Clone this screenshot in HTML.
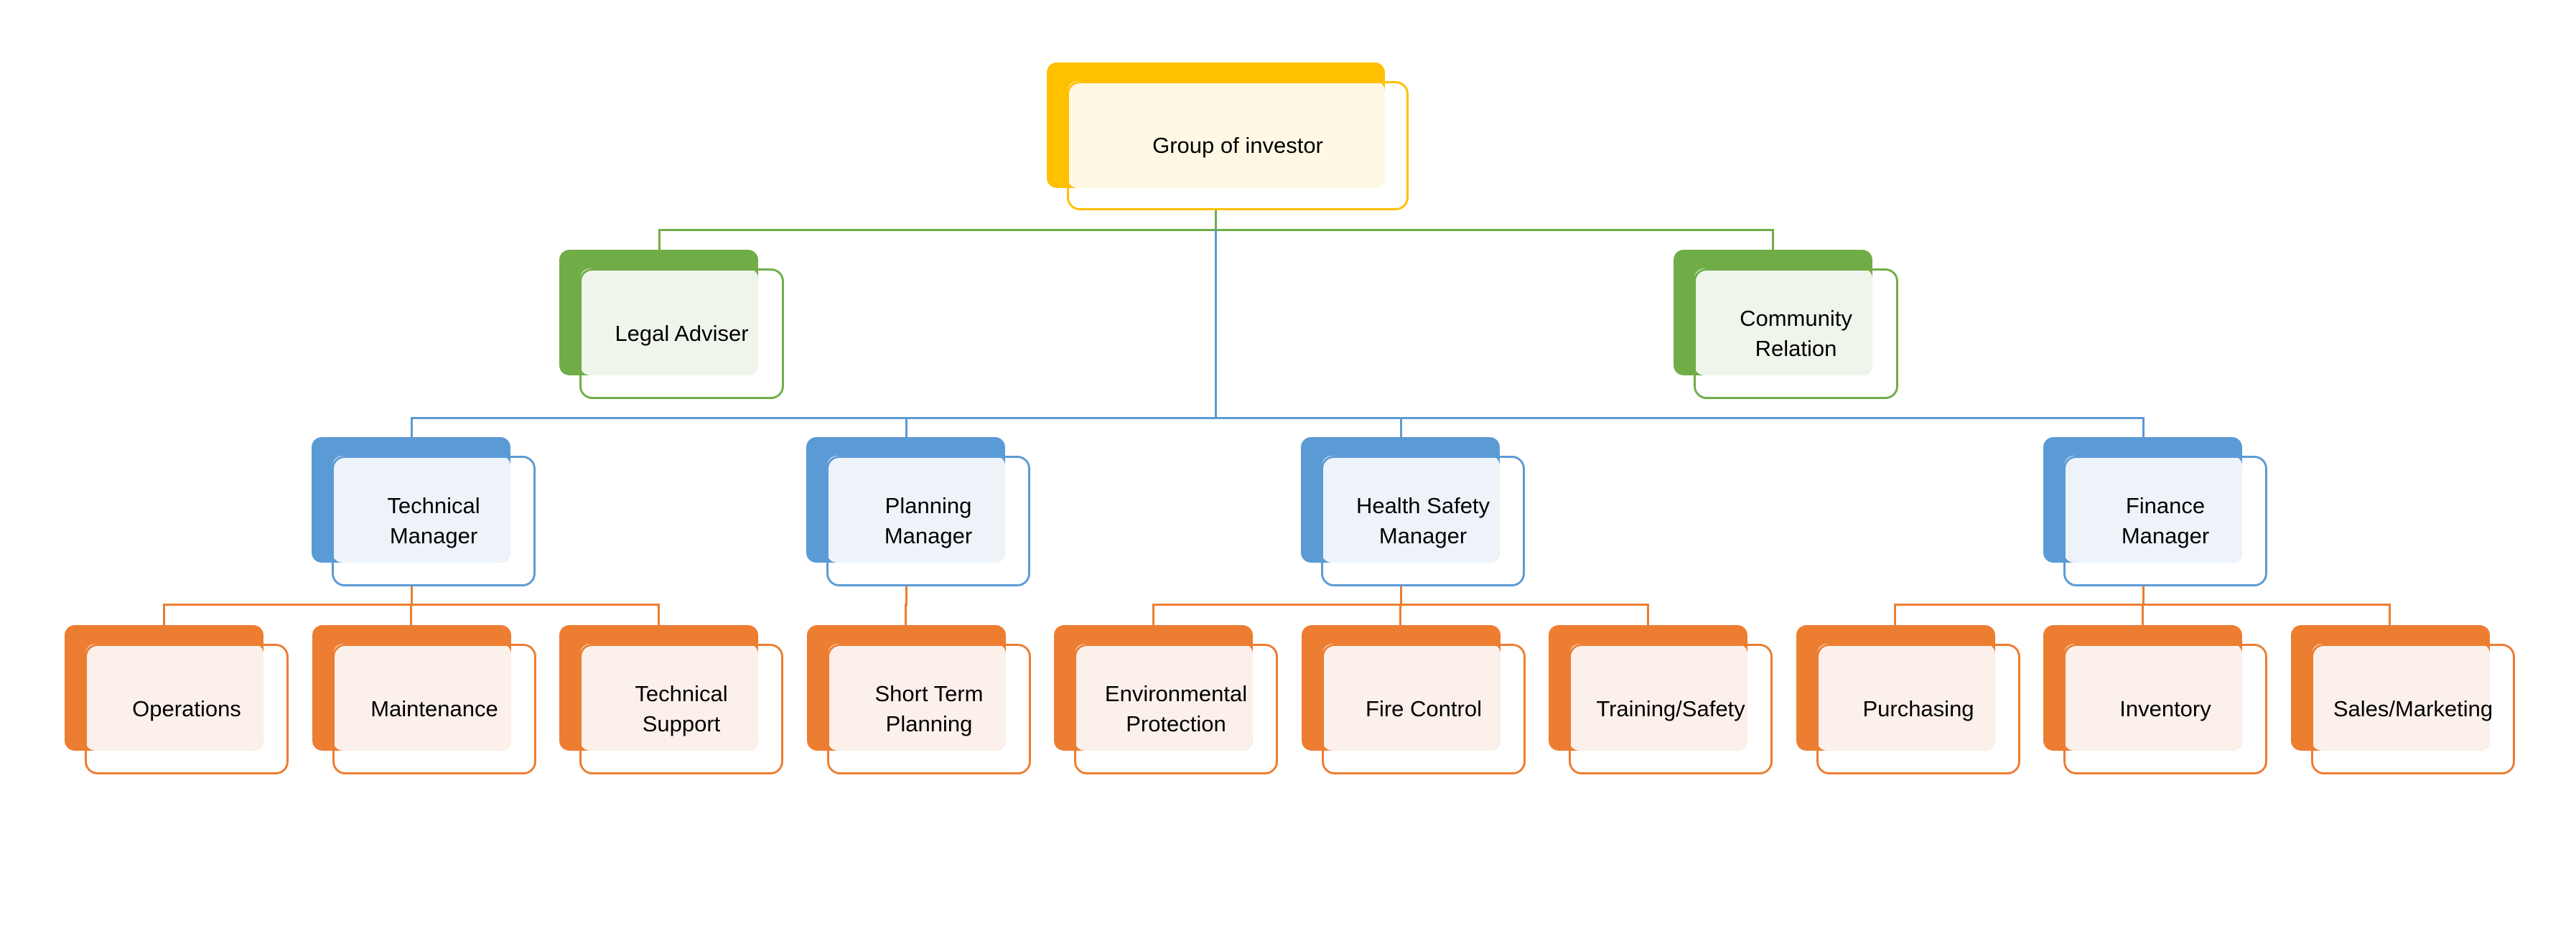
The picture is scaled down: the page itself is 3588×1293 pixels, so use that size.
<!DOCTYPE html>
<html><head><meta charset="utf-8"><style>
body{margin:0;width:3588px;height:1293px;background:#fff;position:relative;overflow:hidden;font-family:"Liberation Sans",sans-serif;}
.b{position:absolute;border-radius:14px;}
.c{position:absolute;border-radius:14px;}
.f{position:absolute;box-sizing:border-box;border:3px solid;border-radius:18px;display:flex;align-items:center;justify-content:center;text-align:center;font-size:31px;line-height:42px;color:#000;}
.l{position:absolute;}
</style></head><body>
<div id="root"></div>
<script>
const C={y:['#FFC000','#FFF8E5'],g:['#70AD47','#F0F5EB'],b:['#5B9BD5','#EEF3FA'],o:['#ED7D31','#FBF0EA']};
function box(x,y,w,h,fw,fh,col,txt){
 const [d,l]=C[col];
 document.body.insertAdjacentHTML('beforeend',
 `<div class="b" style="left:${x}px;top:${y}px;width:${w}px;height:${h}px;background:${d}"></div>`+
 `<div class="c" style="left:${x+29}px;top:${y+26}px;width:${w-29}px;height:${h-26}px;background:${l}"></div>`+
 `<div class="f" style="left:${x+28}px;top:${y+26}px;width:${fw}px;height:${fh}px;border-color:${d}">${txt}</div>`);
}
function ln(x1,y1,x2,y2,col){
 const c=C[col][0];
 if(y1==y2) document.body.insertAdjacentHTML('beforeend',`<div class="l" style="left:${Math.min(x1,x2)-1.5}px;top:${y1-1.5}px;width:${Math.abs(x2-x1)+3}px;height:3px;background:${c}"></div>`);
 else document.body.insertAdjacentHTML('beforeend',`<div class="l" style="left:${x1-1.5}px;top:${Math.min(y1,y2)-1.5}px;width:3px;height:${Math.abs(y2-y1)+3}px;background:${c}"></div>`);
}
// connectors
ln(1693,294,1693,320,'g');ln(918,320,2469,320,'g');ln(918,320,918,348,'g');ln(2469,320,2469,348,'g');
ln(1693,321,1693,582,'b');ln(573,582,2985,582,'b');
[573,1262,1951,2985].forEach(x=>ln(x,582,x,609,'b'));
const cx=i=>90+344.5*i+138;
function grp(m,kids){ln(m,817,m,842,'o');if(kids.length>1){ln(cx(kids[0]),842,cx(kids[kids.length-1]),842,'o');}kids.forEach(k=>ln(cx(k),842,cx(k),871,'o'));}
grp(573,[0,1,2]);grp(1262,[3]);grp(1951,[4,5,6]);grp(2985,[7,8,9]);
// boxes
box(1458,87,471,175,476,180,'y','Group of investor');
box(779,348,277,175,285,182,'g','Legal Adviser');
box(2331,348,277,175,285,182,'g','Community<br>Relation');
box(434,609,277,175,284,182,'b','Technical<br>Manager');
box(1123,609,277,175,284,182,'b','Planning<br>Manager');
box(1812,609,277,175,284,182,'b','Health Safety<br>Manager');
box(2846,609,277,175,284,182,'b','Finance<br>Manager');
const kids=['Operations','Maintenance','Technical<br>Support','Short Term<br>Planning','Environmental<br>Protection','Fire Control','Training/Safety','Purchasing','Inventory','Sales/Marketing'];
kids.forEach((t,i)=>box(Math.round(90+344.5*i),871,277,175,284,182,'o',t));
</script>
</body></html>
